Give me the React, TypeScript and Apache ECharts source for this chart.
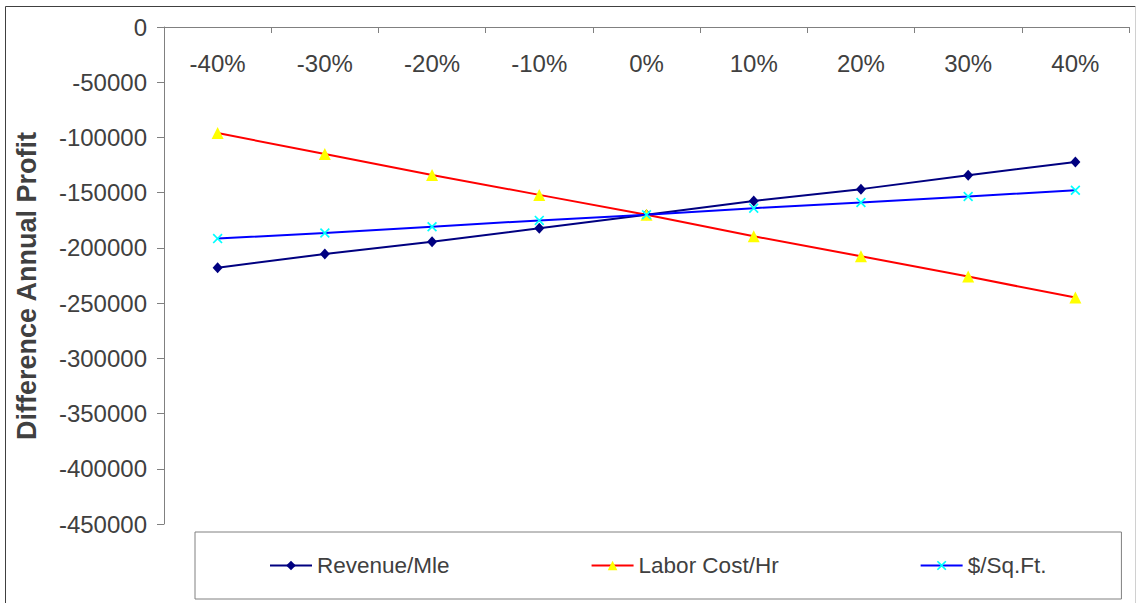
import { useEffect, useRef } from 'react';
import * as echarts from 'echarts';

// Change in the input parameter, shown along the top axis
const categories = ['-40%', '-30%', '-20%', '-10%', '0%', '10%', '20%', '30%', '40%'];

// Difference in annual profit for each parameter sweep
const revenuePerMile = [-218000, -205500, -194500, -182300, -170000, -157500, -146800, -134200, -122300];
const laborCostPerHour = [-96000, -115000, -134000, -152000, -170000, -189500, -207600, -226000, -245000];
const dollarsPerSqFt = [-191600, -186500, -180800, -175100, -170000, -164000, -158900, -153500, -147800];

const seriesNames = ['Revenue/Mle', 'Labor Cost/Hr', '$/Sq.Ft.'];

// Y axis range and step
const yMin = -450000;
const yMax = 0;
const yStep = 50000;

const FONT = "'Liberation Sans', Arial, Helvetica, sans-serif";
const TEXT_COLOR = '#404040';
const AXIS_COLOR = '#808080';

// An "x" marker drawn as a filled outline
const crossSymbol =
  'path://M0,1.2 L1.2,0 L5,3.8 L8.8,0 L10,1.2 L6.2,5 L10,8.8 L8.8,10 L5,6.2 L1.2,10 L0,8.8 L3.8,5 Z';

export default function App() {
  const ref = useRef<HTMLDivElement>(null);

  useEffect(() => {
    if (!ref.current) return;
    const chart = echarts.init(ref.current, undefined, { renderer: 'svg' });

    chart.setOption({
      animation: false,
      backgroundColor: '#ffffff',
      textStyle: { fontFamily: FONT },
      grid: {
        left: 164,
        top: 27,
        right: 10,
        bottom: 79,
        outerBoundsMode: 'none',
      },
      xAxis: {
        type: 'category',
        data: categories,
        position: 'top',
        boundaryGap: true,
        axisLine: { show: true, onZero: false, lineStyle: { color: AXIS_COLOR, width: 1 } },
        axisTick: { show: true, inside: true, length: 6, alignWithLabel: false, lineStyle: { color: AXIS_COLOR } },
        axisLabel: {
          inside: true,
          margin: 24,
          fontSize: 24,
          color: TEXT_COLOR,
          fontFamily: FONT,
        },
        splitLine: { show: false },
      },
      yAxis: {
        type: 'value',
        min: yMin,
        max: yMax,
        interval: yStep,
        axisLine: { show: true, lineStyle: { color: AXIS_COLOR, width: 1 } },
        axisTick: { show: true, length: 7, lineStyle: { color: AXIS_COLOR } },
        axisLabel: {
          margin: 17,
          fontSize: 24,
          color: TEXT_COLOR,
          fontFamily: FONT,
          formatter: (v: number) => String(v),
        },
        splitLine: { show: false },
      },
      legend: {
        data: seriesNames,
        left: 195,
        top: 532,
        orient: 'horizontal',
        padding: [22, 75, 22, 74],
        itemGap: 141,
        itemWidth: 42,
        itemHeight: 12,
        borderColor: AXIS_COLOR,
        borderWidth: 1,
        borderRadius: 0,
        textStyle: { fontSize: 22.5, color: TEXT_COLOR, fontFamily: FONT },
      },
      graphic: [
        {
          type: 'polyline',
          silent: true,
          shape: { points: [[5.5, 603], [5.5, 6.5], [1135.5, 6.5]] },
          style: { stroke: '#404040', lineWidth: 1, fill: null },
        },
        {
          type: 'line',
          silent: true,
          shape: { x1: 1135.5, y1: 6.5, x2: 1135.5, y2: 603 },
          style: { stroke: '#d0d0d0', lineWidth: 1 },
        },
        {
          type: 'text',
          silent: true,
          x: 27,
          y: 286,
          rotation: Math.PI / 2,
          style: {
            text: 'Difference Annual Profit',
            align: 'center',
            verticalAlign: 'middle',
            font: `bold 27px ${FONT}`,
            fill: TEXT_COLOR,
          },
        },
      ],
      series: [
        {
          name: seriesNames[0],
          type: 'line',
          data: revenuePerMile,
          symbol: 'diamond',
          symbolSize: [10, 11],
          showAllSymbol: true,
          lineStyle: { color: '#000080', width: 2 },
          itemStyle: { color: '#000080' },
          z: 2,
        },
        {
          name: seriesNames[1],
          type: 'line',
          data: laborCostPerHour,
          symbol: 'triangle',
          symbolSize: 12,
          showAllSymbol: true,
          lineStyle: { color: '#ff0000', width: 2 },
          itemStyle: { color: '#ffff00' },
          z: 3,
        },
        {
          name: seriesNames[2],
          type: 'line',
          data: dollarsPerSqFt,
          symbol: crossSymbol,
          symbolSize: 10,
          showAllSymbol: true,
          lineStyle: { color: '#0000ff', width: 2 },
          itemStyle: { color: '#00ffff' },
          z: 4,
        },
      ],
    });

    return () => chart.dispose();
  }, []);

  return (
    <div
      ref={ref}
      style={{ position: 'absolute', left: 0, top: 0, width: 1139, height: 603 }}
    />
  );
}
